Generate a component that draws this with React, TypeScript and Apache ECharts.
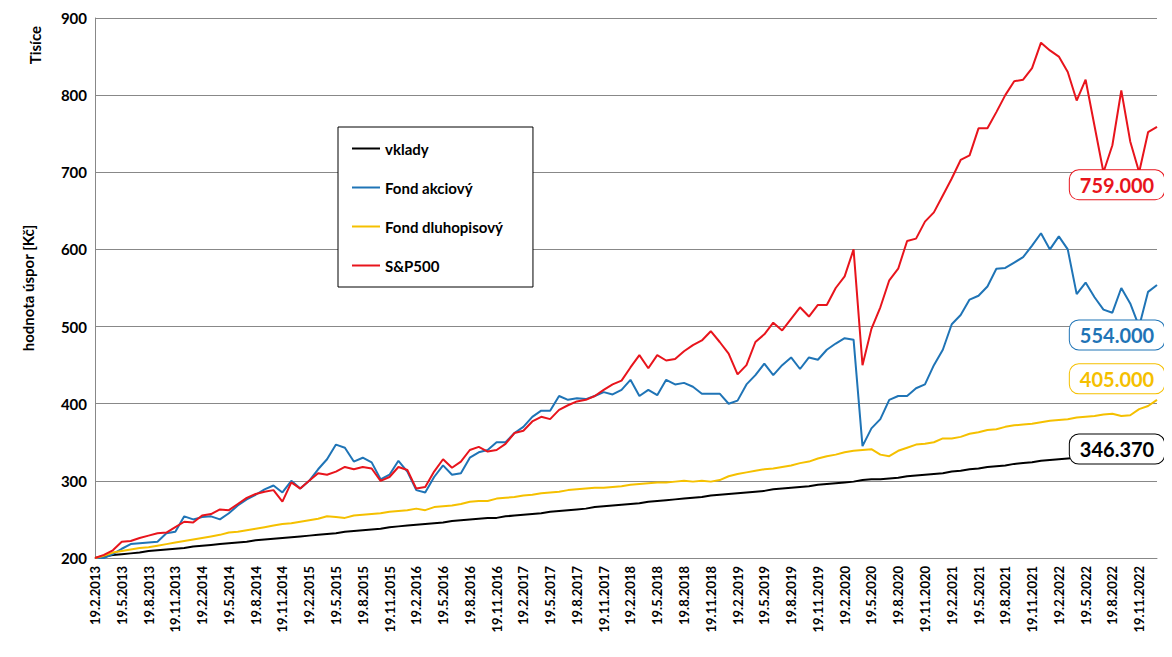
import { useEffect, useRef } from 'react';
import * as echarts from 'echarts';

// months 19.2.2013 .. 19.1.2023
const months: string[] = [];
for (let y = 2013, m = 2; months.length < 120; ) {
  months.push(`19.${m}.${y}`);
  m++;
  if (m > 12) { m = 1; y++; }
}

const vklady = [
  200, 202, 204, 205, 206, 207, 209, 210, 211, 212, 213, 215,
  216, 217, 218, 219, 220, 221, 223, 224, 225, 226, 227, 228,
  229, 230, 231, 232, 234, 235, 236, 237, 238, 240, 241, 242,
  243, 244, 245, 246, 248, 249, 250, 251, 252, 252, 254, 255,
  256, 257, 258, 260, 261, 262, 263, 264, 266, 267, 268, 269,
  270, 271, 273, 274, 275, 276, 277, 278, 279, 281, 282, 283,
  284, 285, 286, 287, 289, 290, 291, 292, 293, 295, 296, 297,
  298, 299, 301, 302, 302, 303, 304, 306, 307, 308, 309, 310,
  312, 313, 315, 316, 318, 319, 320, 322, 323, 324, 326, 327,
  328, 329, 330, 331, 333, 334, 336, 337, 339, 341, 343, 346.37,
];

const akciovy = [
  200, 200, 205, 212, 218, 219, 220, 221, 232, 234, 254, 250,
  253, 254, 250, 258, 268, 276, 282, 289, 294, 285, 300, 290,
  300, 315, 328, 347, 343, 325, 330, 324, 302, 308, 326, 312,
  288, 285, 305, 320, 308, 310, 330, 337, 340, 350, 350, 362,
  370, 383, 391, 391, 410, 405, 407, 406, 410, 415, 412, 418,
  431, 410, 418, 411, 431, 425, 427, 422, 413, 413, 413, 400,
  404, 425, 437, 452, 437, 450, 460, 445, 460, 457, 470, 478,
  485, 483, 345, 368, 380, 405, 410, 410, 420, 425, 450, 470,
  503, 515, 535, 540, 552, 575, 576, 583, 590, 605, 621, 600,
  617, 600, 542, 557, 538, 522, 518, 550, 530, 500, 545, 554,
];

const dluhopisovy = [
  200, 203, 207, 209, 211, 213, 214, 216, 218, 220, 222, 224,
  226, 228, 230, 233, 234, 236, 238, 240, 242, 244, 245, 247,
  249, 251, 254, 253, 252, 255, 256, 257, 258, 260, 261, 262,
  264, 262, 266, 267, 268, 270, 273, 274, 274, 277, 278, 279,
  281, 282, 284, 285, 286, 288, 289, 290, 291, 291, 292, 293,
  295, 296, 297, 298, 298, 299, 300, 299, 300, 299, 301, 306,
  309, 311, 313, 315, 316, 318, 320, 323, 325, 329, 332, 334,
  337, 339, 340, 341, 334, 332, 339, 343, 347, 348, 350, 355,
  355, 357, 361, 363, 366, 367, 370, 372, 373, 374, 376, 378,
  379, 380, 382, 383, 384, 386, 387, 384, 385, 393, 397, 405,
];

const sp500 = [
  200, 204, 210, 221, 222, 226, 229, 232, 233, 240, 247, 246,
  255, 257, 263, 262, 270, 278, 283, 286, 288, 273, 298, 290,
  300, 310, 308, 312, 318, 315, 318, 316, 300, 305, 318, 314,
  290, 292, 312, 328, 317, 325, 340, 344, 338, 340, 348, 362,
  365, 377, 383, 380, 392, 398, 403, 405, 410, 418, 425, 430,
  447, 463, 446, 463, 456, 458, 468, 476, 482, 494, 480, 465,
  438, 450, 480, 490, 505, 495, 510, 525, 513, 528, 528, 550,
  565, 600, 450, 497, 525, 560, 575, 611, 614, 636, 648, 670,
  692, 716, 722, 757, 757, 778, 800, 818, 820, 835, 868, 858,
  850, 830, 793, 820, 760, 700, 735, 806, 740, 700, 752, 759,
];

const endLabels = ['346.370', '554.000', '405.000', '759.000'];

const FONT = 'Lato, "Open Sans", sans-serif';

function endMark(text: string, color: string, offset: number[]) {
  return {
    symbol: 'circle',
    symbolSize: 0,
    data: [{ coord: [months.length - 1, 0], name: text }],
    label: {
      show: true,
      formatter: text,
      color,
      fontSize: 20,
      fontWeight: 'bold',
      fontFamily: FONT,
      backgroundColor: '#fff',
      borderColor: color,
      borderWidth: 1,
      borderRadius: 9,
      padding: [5, 10, 4, 10],
      offset,
    },
  };
}

export default function App() {
  const ref = useRef<HTMLDivElement>(null);

  useEffect(() => {
    if (!ref.current) return;
    const chart = echarts.init(ref.current, undefined, { renderer: 'svg' });
    const mk = (name: string, data: number[], color: string, label: string, offset: number[]) => {
      const m = endMark(label, color, offset);
      m.data[0].coord[1] = data[data.length - 1];
      return {
        name,
        type: 'line',
        data,
        symbol: 'none',
        lineStyle: { width: 2, color },
        itemStyle: { color },
        markPoint: m,
        z: 2,
      };
    };
    chart.setOption({
      animation: false,
      backgroundColor: '#fff',
      textStyle: { fontFamily: FONT },
      grid: { left: 87, right: 7, top: 10, bottom: 91 },
      legend: {
        orient: 'vertical',
        left: 330,
        top: 119,
        width: 180,
        padding: [14, 30, 14, 14],
        itemGap: 24,
        itemWidth: 28,
        itemHeight: 14,
        borderColor: '#000',
        borderWidth: 1,
        backgroundColor: '#fff',
        icon: 'path://M0,6 L28,6 L28,8 L0,8 Z',
        textStyle: { fontSize: 15, fontWeight: 'bold', color: '#000', fontFamily: FONT },
        data: ['vklady', 'Fond akciový', 'Fond dluhopisový', 'S&P500'],
      },
      xAxis: {
        type: 'category',
        data: months,
        boundaryGap: false,
        axisLine: { lineStyle: { color: '#888' } },
        axisTick: { show: false },
        axisLabel: {
          interval: 2,
          rotate: 90,
          fontSize: 13,
          fontWeight: 'bold',
          color: '#000',
          fontFamily: FONT,
        },
      },
      yAxis: {
        type: 'value',
        min: 200,
        max: 900,
        interval: 100,
        name: 'hodnota úspor [Kč]',
        nameLocation: 'middle',
        nameRotate: 90,
        nameGap: 60,
        nameTextStyle: { fontSize: 15, fontWeight: 'bold', color: '#000', fontFamily: FONT },
        axisLine: { show: true, lineStyle: { color: '#888' } },
        axisTick: { show: false },
        splitLine: { lineStyle: { color: '#888' } },
        axisLabel: { fontSize: 15, fontWeight: 'bold', color: '#000', fontFamily: FONT },
      },
      graphic: [
        {
          type: 'text',
          left: 19,
          top: 18,
          rotation: Math.PI / 2,
          style: { text: 'Tisíce', fontSize: 15, fontWeight: 'bold', fill: '#000', fontFamily: FONT },
        },
      ],
      series: [
        mk('vklady', vklady, '#000000', endLabels[0], [-40, 4]),
        mk('Fond akciový', akciovy, '#1f74b6', endLabels[1], [-40, 50]),
        mk('Fond dluhopisový', dluhopisovy, '#f5c000', endLabels[2], [-40, -21]),
        mk('S&P500', sp500, '#e8141c', endLabels[3], [-40, 58]),
      ],
    });
    return () => chart.dispose();
  }, []);

  return <div ref={ref} style={{ width: 1156, height: 641 }} />;
}
